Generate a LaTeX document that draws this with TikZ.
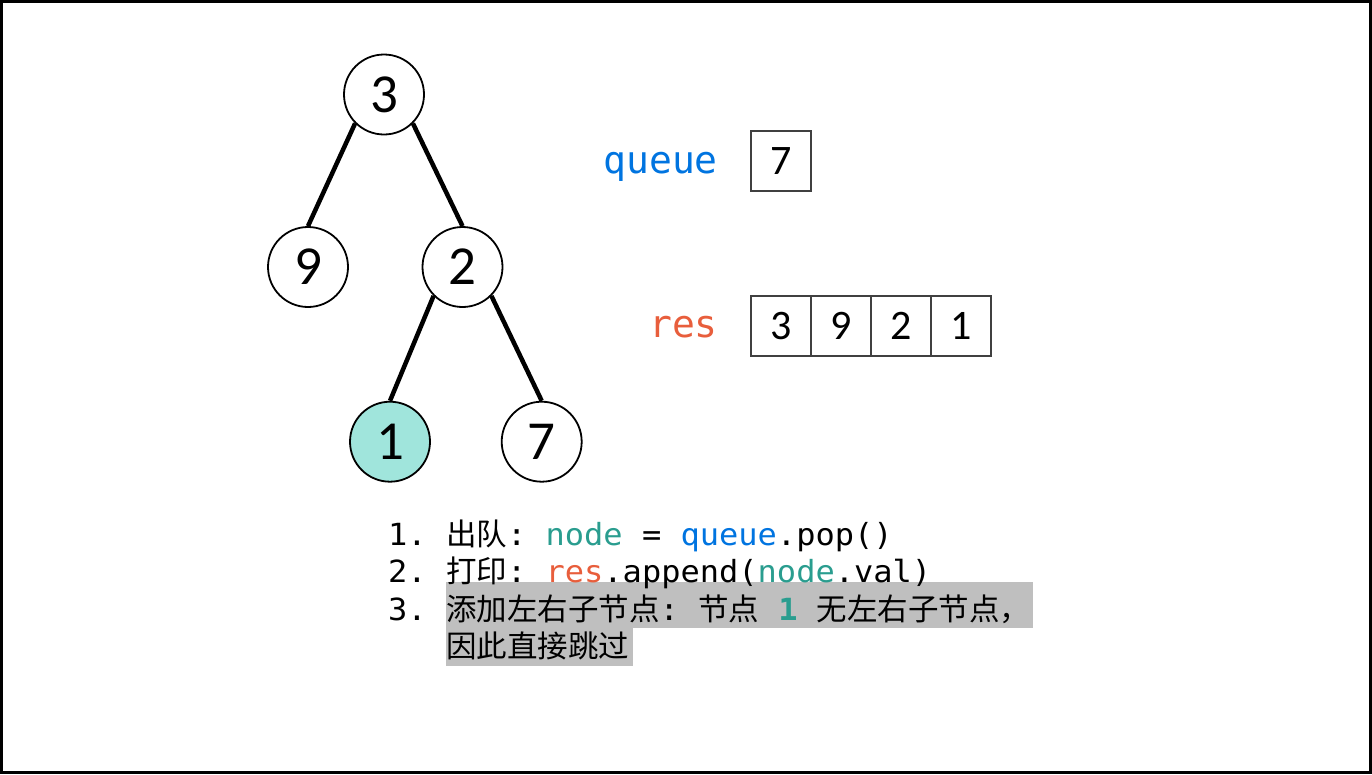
\documentclass[tikz,border=0pt]{standalone}
\usepackage{fontspec}
\newfontfamily\cjk{Noto Sans CJK SC}
\newfontfamily\mono{DejaVu Sans Mono}
\newfontfamily\codemono[FakeStretch=1.05]{DejaVu Sans Mono}
\newfontfamily\digitfont{Carlito}
\definecolor{tealc}{RGB}{42,157,143}
\definecolor{bluec}{RGB}{0,116,224}
\definecolor{redc}{RGB}{232,94,60}
\definecolor{fillc}{RGB}{160,229,220}
\definecolor{hlc}{RGB}{191,191,191}
\definecolor{boxc}{RGB}{64,64,64}
\tikzset{
  treenode/.style={circle, draw=black, line width=1.8pt, minimum size=80pt, inner sep=0pt, fill=white,
    font=\fontsize{55}{60}\digitfont},
  treeedge/.style={line width=4.5pt, black},
  cell/.style={draw=boxc, line width=2pt, minimum size=60pt, inner sep=0pt, font=\fontsize{42}{48}\digitfont},
  varlabel/.style={anchor=base east, inner sep=0pt, font=\fontsize{38}{44}\mono},
  codeline/.style={anchor=base west, inner sep=0pt, font=\fontsize{30.5}{37.5}\codemono\frenchspacing}
}
\begin{document}
\begin{tikzpicture}[x=1pt,y=-1pt]
\useasboundingbox (0,0) rectangle (1372,774);
\draw[line width=3pt] (1.5,1.5) rectangle (1370.5,772.5);

% tree
\node[treenode] (n3) at (384,94.5) {3};
\node[treenode] (n9) at (308,267) {9};
\node[treenode] (n2) at (462.5,267) {2};
\node[treenode, fill=fillc] (n1) at (390,441.7) {1};
\node[treenode] (n7) at (541.7,441.7) {7};
\draw[treeedge] (n3.south west) -- (n9.north);
\draw[treeedge] (n3.south east) -- (n2.north);
\draw[treeedge] (n2.south west) -- (n1.north);
\draw[treeedge] (n2.south east) -- (n7.north);

% queue and res
\node[varlabel, text=bluec] (lq) at (718,173) {queue};
\node[cell] (q1) at (781,161) {7};
\node[varlabel, text=redc] (lr) at (718,337) {res};
\node[cell] (r1) at (781,326) {3};
\node[cell] (r2) at (841,326) {9};
\node[cell] (r3) at (901,326) {2};
\node[cell] (r4) at (961,326) {1};

% highlight
\fill[hlc] (446,582) rectangle (1033,628);
\fill[hlc] (446,628) rectangle (633,666);

% code text
\node[codeline] (c1) at (388,545) {1. {\cjk 出队}: \textcolor{tealc}{node} = \textcolor{bluec}{queue}.pop()};
\node[codeline] (c2) at (388,582.5) {2. {\cjk 打印}: \textcolor{redc}{res}.append(\textcolor{tealc}{node}.val)};
\node[codeline] (c3) at (388,620) {3. {\cjk 添加左右子节点}: {\cjk 节点} \textcolor{tealc}{\bfseries 1} {\cjk 无左右子节点，}};
\node[codeline] (c4) at (446,657.5) {{\cjk 因此直接跳过}};
\end{tikzpicture}
\end{document}
